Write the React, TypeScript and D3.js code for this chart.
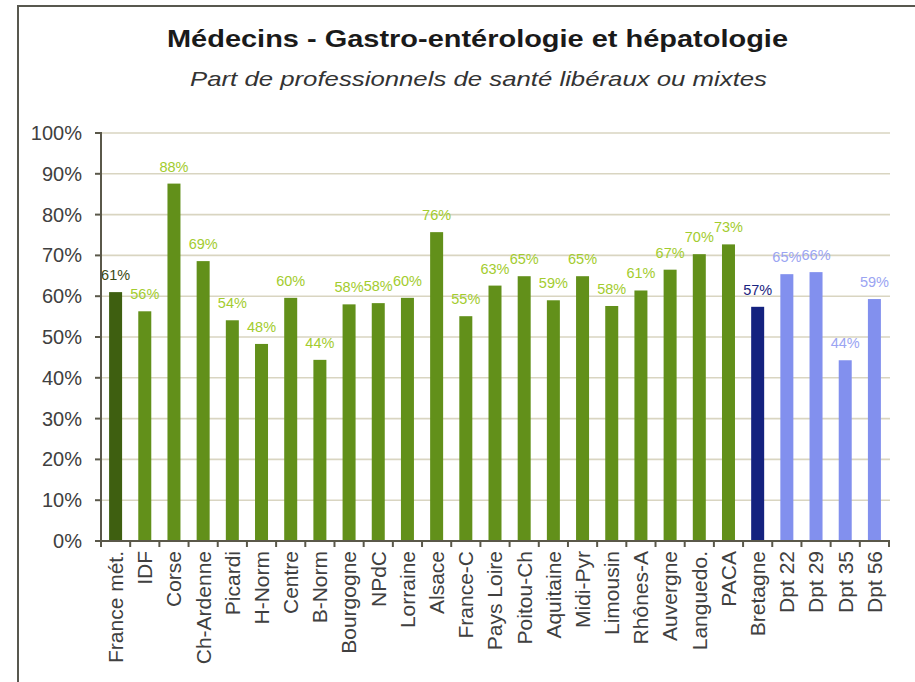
import React from "react";
import * as d3 from "d3";

const categories = ["France mét.", "IDF", "Corse", "Ch-Ardenne", "Picardi", "H-Norm", "Centre", "B-Norm", "Bourgogne", "NPdC", "Lorraine", "Alsace", "France-C", "Pays Loire", "Poitou-Ch", "Aquitaine", "Midi-Pyr", "Limousin", "Rhônes-A", "Auvergne", "Languedo.", "PACA", "Bretagne", "Dpt 22", "Dpt 29", "Dpt 35", "Dpt 56"];
const values = [0.61, 0.563, 0.876, 0.686, 0.541, 0.483, 0.596, 0.444, 0.58, 0.583, 0.596, 0.757, 0.551, 0.626, 0.649, 0.59, 0.649, 0.576, 0.614, 0.665, 0.703, 0.727, 0.574, 0.654, 0.659, 0.443, 0.593];
const groups = ["fr", "reg", "reg", "reg", "reg", "reg", "reg", "reg", "reg", "reg", "reg", "reg", "reg", "reg", "reg", "reg", "reg", "reg", "reg", "reg", "reg", "reg", "bret", "dpt", "dpt", "dpt", "dpt"];
const yTicks = [0, 0.1, 0.2, 0.3, 0.4, 0.5, 0.6, 0.7, 0.8, 0.9, 1.0];
const title = "Médecins - Gastro-entérologie et hépatologie";
const subtitle = "Part de professionnels de santé libéraux ou mixtes";

const barColor: Record<string, string> = { fr: "#3e5f10", reg: "#62901a", bret: "#14227f", dpt: "#8290ee" };
const labelColor: Record<string, string> = { fr: "#3a4a12", reg: "#a3cc2e", bret: "#1a2580", dpt: "#9aa4f2" };

export default function App() {
  const W = 915, H = 682;
  const left = 101, right = 889, top = 133, bottom = 541;
  const x = d3.scaleBand<string>().domain(categories).range([left, right]).paddingInner(0).paddingOuter(0);
  const y = d3.scaleLinear().domain([0, 1]).range([bottom, top]);
  const fmt = d3.format(".0%");
  const bw = 13;
  const font = "'Liberation Sans', Arial, sans-serif";

  return (
    <svg width={W} height={H} style={{ position: "absolute", left: 0, top: 0, background: "#fff" }} fontFamily={font}>
      <rect x={0} y={0} width={W} height={H} fill="#fff" />
      <rect x={18} y={6} width={1000} height={1000} fill="#fff" stroke="#58584f" strokeWidth={2} />
      <text x={477.5} y={47} textAnchor="middle" fontSize={24} fontWeight="bold" fill="#1a1a1a" textLength={621} lengthAdjust="spacingAndGlyphs">{title}</text>
      <text x={478.5} y={86} textAnchor="middle" fontSize={21} fontStyle="italic" fill="#333" textLength={577} lengthAdjust="spacingAndGlyphs">{subtitle}</text>

      {yTicks.filter(t => t > 0).map(t => (
        <line key={"g" + t} x1={left} x2={right + 1} y1={y(t)} y2={y(t)} stroke="#d9d5c1" strokeWidth={1.6} />
      ))}

      {categories.map((c, i) => {
        const v = values[i];
        const cx = (x(c) as number) + x.bandwidth() / 2;
        return (
          <g key={c}>
            <rect x={cx - bw / 2} y={y(v)} width={bw} height={y(0) - y(v)} fill={barColor[groups[i]]} />
            <text x={cx} y={y(v) - 12} textAnchor="middle" fontSize={14.5} fill={labelColor[groups[i]]}>{fmt(v)}</text>
          </g>
        );
      })}

      <line x1={left} x2={left} y1={top - 1} y2={bottom} stroke="#5a584a" strokeWidth={2} />
      <line x1={left} x2={right + 1} y1={bottom} y2={bottom} stroke="#5a584a" strokeWidth={2} />
      {yTicks.map(t => (
        <g key={"t" + t}>
          <line x1={left - 6} x2={left} y1={y(t)} y2={y(t)} stroke="#5a584a" strokeWidth={2} />
          <text x={82} y={y(t)} dy="0.35em" textAnchor="end" fontSize={20} fill="#404040">{fmt(t)}</text>
        </g>
      ))}
      {d3.range(categories.length + 1).map(i => {
        const tx = left + i * x.step();
        return <line key={"xt" + i} x1={tx} x2={tx} y1={bottom} y2={bottom + 6} stroke="#5a584a" strokeWidth={2} />;
      })}
      {categories.map(c => {
        const cx = (x(c) as number) + x.bandwidth() / 2;
        return (
          <text key={"l" + c} transform={`translate(${cx},${bottom + 10}) rotate(-90)`} dy="0.35em" textAnchor="end" fontSize={21} fill="#404040">{c}</text>
        );
      })}
    </svg>
  );
}
